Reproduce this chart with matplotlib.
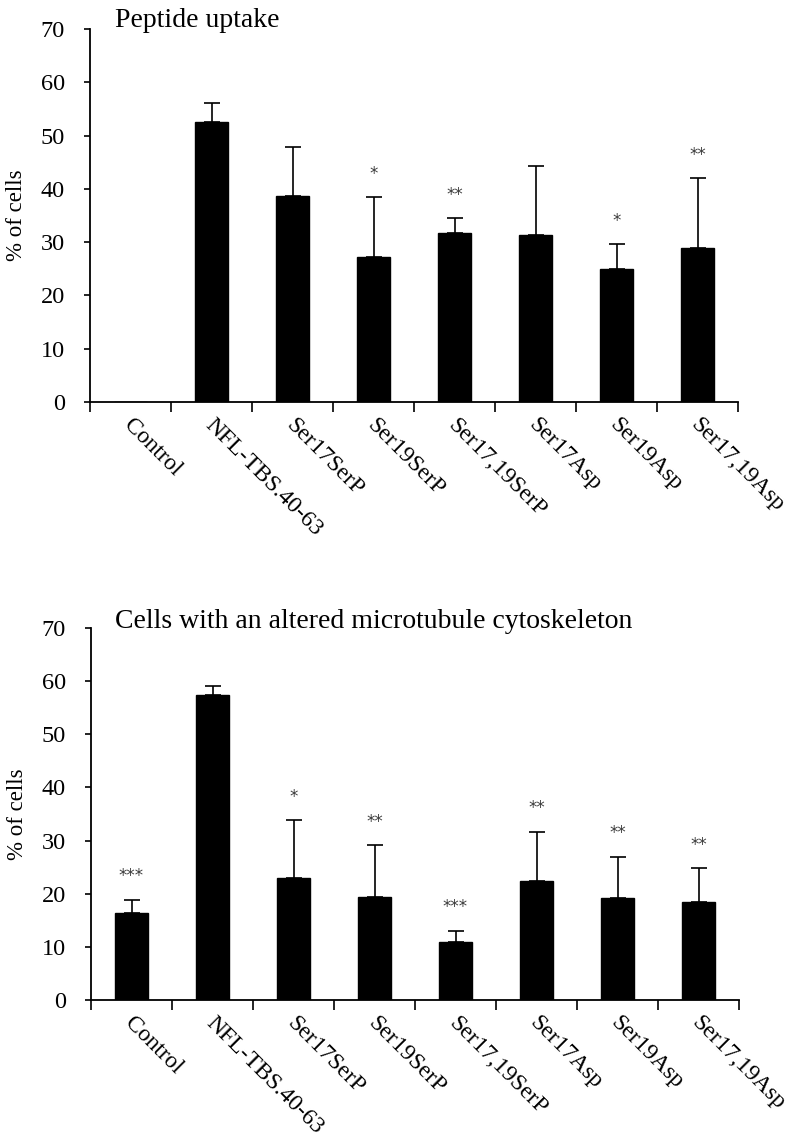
import matplotlib
matplotlib.use("Agg")
import matplotlib.pyplot as plt
import numpy as np

categories = ["Control", "NFL-TBS.40-63", "Ser17SerP", "Ser19SerP",
              "Ser17,19SerP", "Ser17Asp", "Ser19Asp", "Ser17,19Asp"]

uptake_values = [0, 52.6, 38.6, 27.3, 31.7, 31.3, 24.9, 28.9]
uptake_errors = [0, 3.5, 9.2, 11.1, 2.8, 13.0, 4.7, 13.1]
uptake_stars = ["", "", "", "*", "**", "", "*", "**"]

micro_values = [16.3, 57.3, 23.0, 19.4, 11.0, 22.3, 19.1, 18.4]
micro_errors = [2.6, 1.7, 10.8, 9.7, 2.0, 9.4, 7.9, 6.4]
micro_stars = ["***", "", "*", "**", "***", "**", "**", "**"]

titles = ["Peptide uptake", "Cells with an altered microtubule cytoskeleton"]
ylabel = "% of cells"
yticks = [0, 10, 20, 30, 40, 50, 60, 70]

plt.rcParams["font.family"] = ["Liberation Serif", "DejaVu Serif"]

fig = plt.figure(figsize=(7.89, 11.40), dpi=100)
W, H = 789, 1140

def make_axes(left, right, top_px, bottom_px):
    return fig.add_axes([left / W, 1 - bottom_px / H, (right - left) / W, (bottom_px - top_px) / H])

ax1 = make_axes(90, 738, 29, 402)
ax2 = make_axes(91, 739, 628, 1000)

def draw(ax, values, errors, stars, title, title_y_px):
    x = np.arange(len(categories))
    ax.bar(x, values, width=0.41, color="black", edgecolor="black", zorder=2)
    for xi, v, e in zip(x, values, errors):
        if e > 0:
            ax.errorbar(xi, v, yerr=[[0], [e]], fmt="none", ecolor="black",
                        elinewidth=1.2, capsize=6, capthick=1.2, zorder=3)
    for xi, v, e, s in zip(x, values, errors, stars):
        if s:
            ax.annotate(s, (xi, v + e), xytext=(0, 17), textcoords="offset points",
                        ha="center", va="center", fontsize=12, color="#3a3a3a",
                        family="DejaVu Sans")
    ax.set_xlim(-0.5, len(categories) - 0.5)
    ax.set_ylim(0, 70)
    ax.set_yticks(yticks)
    ax.set_yticklabels([str(t) for t in yticks], fontsize=17.5)
    ax.set_xticks(np.arange(len(categories) + 1) - 0.5)
    ax.set_xticklabels([])
    ax.tick_params(axis="x", direction="out", length=7, width=1.2)
    ax.tick_params(axis="y", direction="out", length=4, width=1.2, pad=14)
    for sp in ["top", "right"]:
        ax.spines[sp].set_visible(False)
    for sp in ["left", "bottom"]:
        ax.spines[sp].set_linewidth(1.3)
    for xi, lab in zip(x, categories):
        ax.annotate(lab, (xi, 0), xytext=(3, -9), textcoords="offset points",
                    ha="left", va="top", rotation=-45, rotation_mode="anchor",
                    fontsize=17, annotation_clip=False)
    ax.set_ylabel(ylabel, fontsize=16.5, labelpad=10)
    fig.text(115 / W, 1 - title_y_px / H, title, fontsize=20, va="baseline", ha="left")

draw(ax1, uptake_values, uptake_errors, uptake_stars, titles[0], 27)
draw(ax2, micro_values, micro_errors, micro_stars, titles[1], 628)

fig.savefig("out.png", dpi=100)
